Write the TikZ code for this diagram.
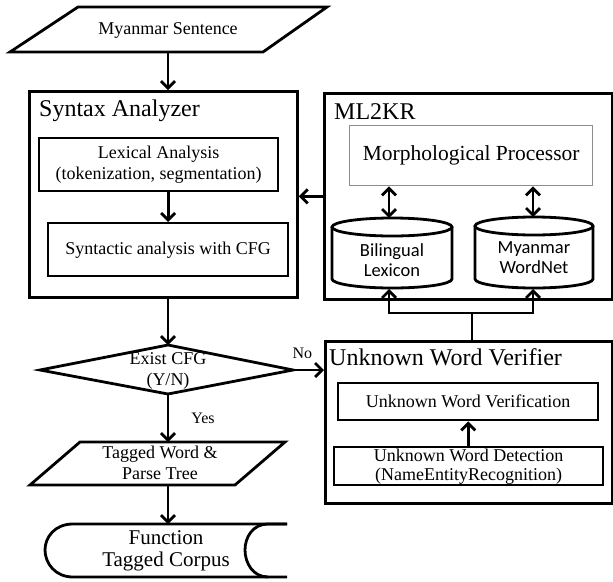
\documentclass[tikz,border=0pt]{standalone}
\usepackage{fontspec}
\setmainfont{Liberation Serif}
\newfontfamily\cylfont{Carlito}
\usetikzlibrary{arrows.meta}
\begin{document}
\begin{tikzpicture}[x=1pt,y=-1pt,
  outerbox/.style={draw, line width=2.8pt, inner sep=0pt, anchor=north west},
  innerbox/.style={draw, line width=2.4pt, inner sep=0pt, anchor=north west, align=center, font=\fontsize{18}{21}\selectfont},
  morphbox/.style={draw=black!45, line width=1.4pt, inner sep=0pt, anchor=north west, font=\fontsize{21.5}{24}\selectfont},
  titletxt/.style={anchor=west, inner sep=0pt, font=\fontsize{24}{26}\selectfont},
  txt/.style={align=center, inner sep=0pt, font=\fontsize{18}{21}\selectfont},
  cyltxt/.style={align=center, inner sep=0pt, font=\cylfont\fontsize{18.5}{20}\selectfont},
  lbl/.style={inner sep=0pt, font=\fontsize{16}{18}\selectfont},
  shp/.style={draw, line width=2.8pt, line join=miter},
  arr/.style={-{Straight Barb[length=7pt,width=14pt]}, line width=2.8pt},
  darr/.style={{Straight Barb[length=7pt,width=14pt]}-{Straight Barb[length=7pt,width=14pt]}, line width=2.8pt},
  plain/.style={line width=2.8pt}
]
\useasboundingbox (0,0) rectangle (613,581);

% Myanmar Sentence (parallelogram)
\draw[shp] (78,7) -- (327,7) -- (263,52) -- (10,52) -- cycle;
\node[txt] (ms) at (168,30) {Myanmar Sentence};
\coordinate (msb) at (168,52);

% Syntax Analyzer
\node[outerbox, minimum width=268pt, minimum height=206pt] (sa) at (28,90) {};
\node[titletxt] (satitle) at (39,111) {Syntax Analyzer};
\node[innerbox, minimum width=239pt, minimum height=53pt] (lex) at (38,137) {Lexical Analysis\\(tokenization, segmentation)};
\node[innerbox, minimum width=240pt, minimum height=53pt] (syn) at (47,222) {Syntactic analysis with CFG};

% ML2KR
\node[outerbox, minimum width=288pt, minimum height=206pt] (ml) at (323,92) {};
\node[titletxt] (mltitle) at (334,112) {ML2KR};
\node[morphbox, minimum width=243pt, minimum height=60pt] (mp) at (349,125) {Morphological Processor};

% Cylinders
\draw[line width=2.8pt] (392,227) ellipse [x radius=60pt, y radius=9pt];
\draw[line width=2.8pt] (332,227) -- (332,279) arc[start angle=180, end angle=360, x radius=60pt, y radius=9pt] -- (452,227);
\node[cyltxt] (bl) at (392,260) {Bilingual\\Lexicon};
\coordinate (bltop) at (389,218);
\coordinate (blbot) at (389,289);

\draw[line width=2.8pt] (534,226) ellipse [x radius=59pt, y radius=9pt];
\draw[line width=2.8pt] (475,226) -- (475,279) arc[start angle=180, end angle=360, x radius=59pt, y radius=9pt] -- (593,226);
\node[cyltxt] (wn) at (534,258) {Myanmar\\WordNet};
\coordinate (wntop) at (533,217);
\coordinate (wnbot) at (533,289);

% Unknown Word Verifier
\node[outerbox, minimum width=287pt, minimum height=162pt] (uwv) at (324,340) {};
\node[titletxt] (uwvtitle) at (329,357) {Unknown Word Verifier};
\node[innerbox, minimum width=260pt, minimum height=37pt] (ver) at (337,382) {Unknown Word Verification};
\node[innerbox, minimum width=269pt, minimum height=38pt, font=\fontsize{18}{19}\selectfont] (det) at (333,446) {Unknown Word Detection\\(NameEntityRecognition)};

% Decision diamond
\draw[shp] (40,370) -- (168,345) -- (293,370) -- (168,394) -- cycle;
\node[txt] (dia) at (168,371) {Exist CFG\\(Y/N)};
\coordinate (diatop) at (168,345);
\coordinate (diabot) at (168,394);
\coordinate (diaright) at (293,370);

% Tagged Word & Parse Tree (parallelogram)
\draw[shp] (80,442) -- (285,442) -- (235,485) -- (30,485) -- cycle;
\node[txt] (tw) at (160,463) {Tagged Word \&\\Parse Tree};
\coordinate (twtop) at (168,442);
\coordinate (twbot) at (168,485);

% Function Tagged Corpus (stored data)
\draw[line width=2.8pt] (287,524) -- (73,524)
  .. controls (55,524) and (45,537) .. (45,550)
  .. controls (45,563) and (55,577) .. (73,577) -- (287,577);
\draw[line width=2.8pt] (287,524) -- (268,524)
  .. controls (253,524) and (245,537) .. (245,550)
  .. controls (245,563) and (253,577) .. (268,577);
\node[txt, font=\fontsize{21}{22}\selectfont] (corp) at (166,551) {Function\\Tagged Corpus};
\coordinate (corptop) at (168,524);

% Connectors
\draw[arr] (msb) -- (msb |- sa.north);
\draw[arr] (lex.south -| syn.north) -- (syn.north);
\draw[arr] (ml.west) -- (ml.west -| sa.east);
\draw[arr] (diatop |- sa.south) -- (diatop);
\draw[arr] (diaright) -- (diaright -| uwv.west) node[lbl, pos=0.3, above=10pt] (no) {No};
\draw[arr] (diabot) -- (twtop) node[lbl, midway, right=22pt] (yes) {Yes};
\draw[arr] (twbot) -- (corptop);
\draw[darr] (bltop |- mp.south) -- (bltop);
\draw[darr] (wntop |- mp.south) -- (wntop);
\draw[arr] (det.north -| ver.south) -- (ver.south);
\coordinate (jn) at (472,313);
\draw[plain] (jn |- uwv.north) -- (jn);
\draw[arr] (jn) -| (blbot);
\draw[arr] (jn) -| (wnbot);
\end{tikzpicture}
\end{document}
